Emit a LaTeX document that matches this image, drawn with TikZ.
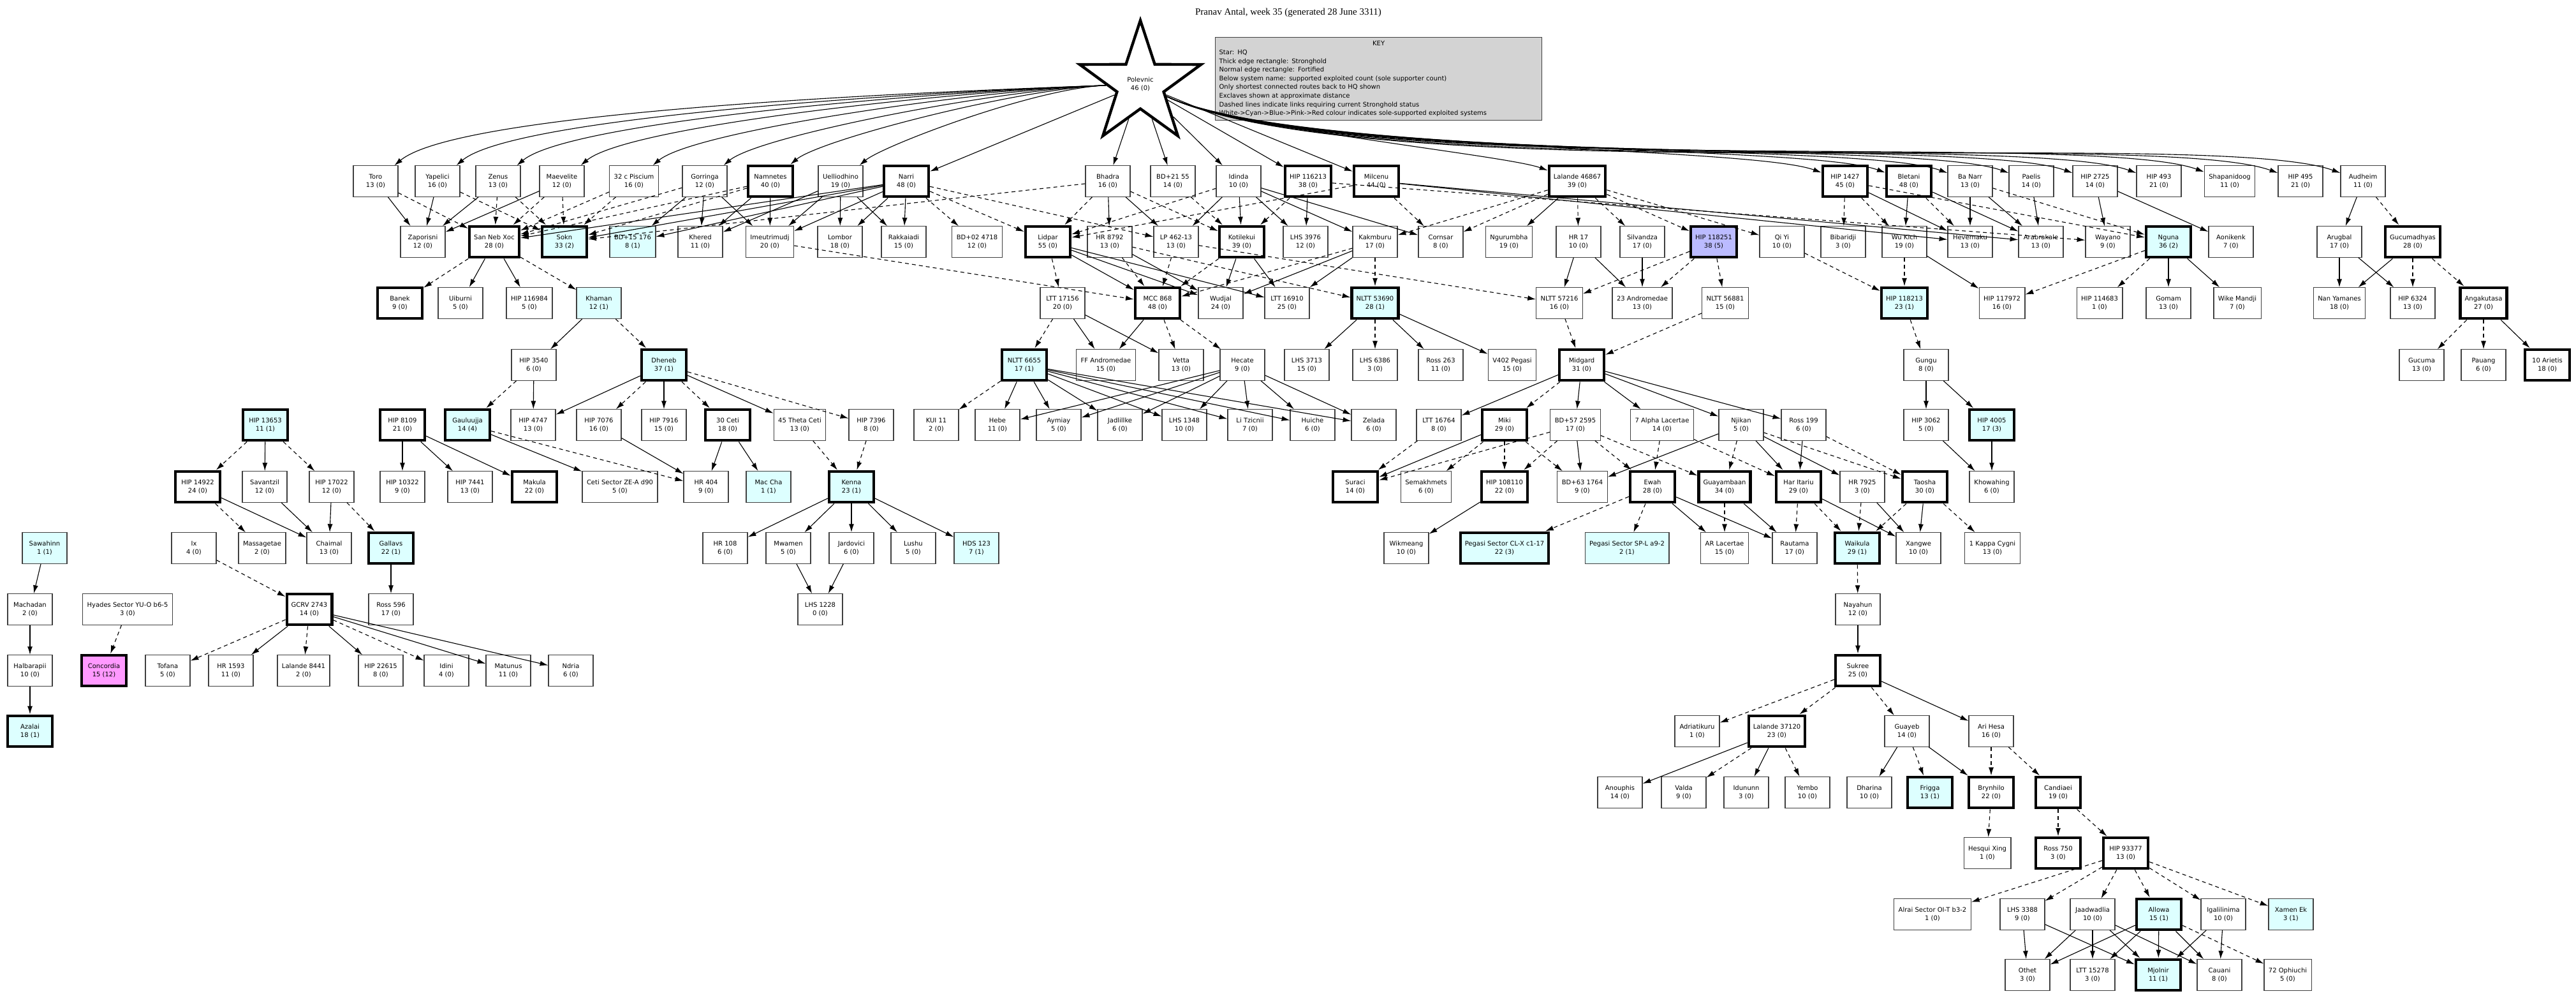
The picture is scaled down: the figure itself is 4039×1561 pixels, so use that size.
\documentclass[tikz,border=0pt]{standalone}
\usepackage{fontspec}
\setmainfont{DejaVu Sans}
\newfontfamily\titlefont{Liberation Serif}
\usetikzlibrary{arrows.meta,shapes.geometric}
\definecolor{cyanfill}{HTML}{DDFFFF}
\definecolor{bluefill}{HTML}{BBBBFF}
\definecolor{pinkfill}{HTML}{FF99FF}
\definecolor{keyfill}{HTML}{D3D3D3}
\tikzset{
  sys/.style={rectangle,draw=black!75,line width=0.3pt,fill=white,align=center,
    font=\fontsize{2.5}{3.25}\selectfont,minimum width=17.5pt,minimum height=12pt,inner xsep=1.75pt},
  strong/.style={sys,draw=black,line width=1.1pt},
  cy/.style={fill=cyanfill},
  bl/.style={fill=bluefill},
  pk/.style={fill=pinkfill},
  link/.style={-{Latex[length=3.2pt,width=2pt]},line width=0.28pt},
  slink/.style={link,dash pattern=on 1.5pt off 1.25pt},
}
\begin{document}
\begin{tikzpicture}[x=0.25pt,y=-0.25pt]
\useasboundingbox (0,0) rectangle (4039,1561);
% title, key and HQ
\node[font=\titlefont\fontsize{3.75}{4.25}\selectfont] (title) at (2020,20) {Pranav Antal, week 35 (generated 28 June 3311)};
\node[draw=black!75,line width=0.3pt,fill=keyfill,align=left,anchor=north west,text width=125pt,
  font=\fontsize{2.5}{3.4}\selectfont,inner sep=1.5pt] (key) at (1905,58)
  {\hfill KEY\hfill\null\\Star: HQ\\Thick edge rectangle: Stronghold\\Normal edge rectangle: Fortified\\
   Below system name: supported exploited count (sole supporter count)\\Only shortest connected routes back to HQ shown\\
   Exclaves shown at approximate distance\\Dashed lines indicate links requiring current Stronghold status\\
   White->Cyan->Blue->Pink->Red colour indicates sole-supported exploited systems};
\node[star,star points=5,star point ratio=2.6,draw=black,line width=1.1pt,fill=white,minimum size=50pt,
  align=center,font=\fontsize{2.5}{3.25}\selectfont,inner sep=0pt] (pol) at (1788,132) {Polevnic\\46 (0)};

% row 1
\node[sys] (toro) at (589,284) {Toro\\13 (0)};
\node[sys] (yape) at (686,284) {Yapelici\\16 (0)};
\node[sys] (zenu) at (781,284) {Zenus\\13 (0)};
\node[sys] (maev) at (881,284) {Maevelite\\12 (0)};
\node[sys] (pisc) at (994,284) {32 c Piscium\\16 (0)};
\node[sys] (gorr) at (1105,284) {Gorringa\\12 (0)};
\node[strong] (namn) at (1208,284) {Namnetes\\40 (0)};
\node[sys] (ueli) at (1318,284) {Uelliodhino\\19 (0)};
\node[strong] (narr) at (1421,284) {Narri\\48 (0)};
\node[sys] (bhad) at (1737,284) {Bhadra\\16 (0)};
\node[sys] (bd21) at (1839,284) {BD+21 55\\14 (0)};
\node[sys] (idin) at (1942,284) {Idinda\\10 (0)};
\node[strong] (h116) at (2051,284) {HIP 116213\\38 (0)};
\node[strong] (milc) at (2158,284) {Milcenu\\44 (0)};
\node[strong] (la46) at (2473,284) {Lalande 46867\\39 (0)};
\node[strong] (h1427) at (2893,284) {HIP 1427\\45 (0)};
\node[strong] (blet) at (2993,284) {Bletani\\48 (0)};
\node[sys] (bana) at (3089,284) {Ba Narr\\13 (0)};
\node[sys] (pael) at (3185,284) {Paelis\\14 (0)};
\node[sys] (h2725) at (3285,284) {HIP 2725\\14 (0)};
\node[sys] (h493) at (3385,284) {HIP 493\\21 (0)};
\node[sys] (shap) at (3496,284) {Shapanidoog\\11 (0)};
\node[sys] (h495) at (3607,284) {HIP 495\\21 (0)};
\node[sys] (audh) at (3705,284) {Audheim\\11 (0)};

% row 2
\node[sys] (zapo) at (663,379) {Zaporisni\\12 (0)};
\node[strong] (sanx) at (775,379) {San Neb Xoc\\28 (0)};
\node[strong,cy] (sokn) at (885,379) {Sokn\\33 (2)};
\node[sys,cy] (bd15) at (992,379) {BD+15 176\\8 (1)};
\node[sys] (kher) at (1098,379) {Khered\\11 (0)};
\node[sys] (imeu) at (1207,379) {Imeutrimudj\\20 (0)};
\node[sys] (lomb) at (1317,379) {Lombor\\18 (0)};
\node[sys] (rakk) at (1417,379) {Rakkaiadi\\15 (0)};
\node[sys] (bd02) at (1532,379) {BD+02 4718\\12 (0)};
\node[strong] (lidp) at (1643,379) {Lidpar\\55 (0)};
\node[sys] (hr87) at (1740,379) {HR 8792\\13 (0)};
\node[sys] (lp46) at (1844,379) {LP 462-13\\13 (0)};
\node[strong] (koti) at (1947,379) {Kotilekui\\39 (0)};
\node[sys] (lh39) at (2047,379) {LHS 3976\\12 (0)};
\node[sys] (kakm) at (2156,379) {Kakmburu\\17 (0)};
\node[sys] (corn) at (2259,379) {Cornsar\\8 (0)};
\node[sys] (ngur) at (2366,379) {Ngurumbha\\19 (0)};
\node[sys] (hr17) at (2475,379) {HR 17\\10 (0)};
\node[sys] (silv) at (2575,379) {Silvandza\\17 (0)};
\node[strong,bl] (h118251) at (2687,379) {HIP 118251\\38 (5)};
\node[sys] (qiyi) at (2794,379) {Qi Yi\\10 (0)};
\node[sys] (biba) at (2890,379) {Bibaridji\\3 (0)};
\node[sys] (wuki) at (2986,379) {Wu Kich\\19 (0)};
\node[sys] (heve) at (3089,379) {Hevernaku\\13 (0)};
\node[sys] (arab) at (3200,379) {Arabrakale\\13 (0)};
\node[sys] (waya) at (3305,379) {Wayano\\9 (0)};
\node[strong,cy] (ngun) at (3400,379) {Nguna\\36 (2)};
\node[sys] (aoni) at (3498,379) {Aonikenk\\7 (0)};
\node[sys] (arug) at (3668,379) {Arugbal\\17 (0)};
\node[strong] (gucu) at (3783,379) {Gucumadhyas\\28 (0)};

% row 3
\node[strong] (bane) at (627,475) {Banek\\9 (0)};
\node[sys] (uibu) at (722,475) {Uiburni\\5 (0)};
\node[sys] (h116984) at (830,475) {HIP 116984\\5 (0)};
\node[sys,cy] (kham) at (939,475) {Khaman\\12 (1)};
\node[sys] (lt17) at (1666,475) {LTT 17156\\20 (0)};
\node[strong] (mcc) at (1815,475) {MCC 868\\48 (0)};
\node[sys] (wudj) at (1914,475) {Wudjal\\24 (0)};
\node[sys] (lt16) at (2018,475) {LTT 16910\\25 (0)};
\node[strong,cy] (nl53) at (2156,475) {NLTT 53690\\28 (1)};
\node[sys] (nl57) at (2445,475) {NLTT 57216\\16 (0)};
\node[sys] (and23) at (2575,475) {23 Andromedae\\13 (0)};
\node[sys] (nl56) at (2705,475) {NLTT 56881\\15 (0)};
\node[strong,cy] (h118213) at (2986,475) {HIP 118213\\23 (1)};
\node[sys] (h117972) at (3139,475) {HIP 117972\\16 (0)};
\node[sys] (h114683) at (3292,475) {HIP 114683\\1 (0)};
\node[sys] (goma) at (3400,475) {Gomam\\13 (0)};
\node[sys] (wike) at (3508,475) {Wike Mandji\\7 (0)};
\node[sys] (nany) at (3668,475) {Nan Yamanes\\18 (0)};
\node[sys] (h6324) at (3783,475) {HIP 6324\\13 (0)};
\node[strong] (anga) at (3894,475) {Angakutasa\\27 (0)};

% row 4
\node[sys] (h3540) at (837,572) {HIP 3540\\6 (0)};
\node[strong,cy] (dhen) at (1041,572) {Dheneb\\37 (1)};
\node[strong,cy] (nl66) at (1606,572) {NLTT 6655\\17 (1)};
\node[sys] (ffan) at (1734,572) {FF Andromedae\\15 (0)};
\node[sys] (vett) at (1852,572) {Vetta\\13 (0)};
\node[sys] (heca) at (1948,572) {Hecate\\9 (0)};
\node[sys] (lh37) at (2049,572) {LHS 3713\\15 (0)};
\node[sys] (lh63) at (2156,572) {LHS 6386\\3 (0)};
\node[sys] (ro263) at (2259,572) {Ross 263\\11 (0)};
\node[sys] (v402) at (2371,572) {V402 Pegasi\\15 (0)};
\node[strong] (midg) at (2480,572) {Midgard\\31 (0)};
\node[sys] (gung) at (3020,572) {Gungu\\8 (0)};
\node[sys] (gcma) at (3797,572) {Gucuma\\13 (0)};
\node[sys] (paua) at (3894,572) {Pauang\\6 (0)};
\node[strong] (ari10) at (3994,572) {10 Arietis\\18 (0)};

% row 5
\node[strong,cy] (h13653) at (416,666) {HIP 13653\\11 (1)};
\node[strong] (h8109) at (631,666) {HIP 8109\\21 (0)};
\node[strong,cy] (gaul) at (733,666) {Gauluujja\\14 (4)};
\node[sys] (h4747) at (836,666) {HIP 4747\\13 (0)};
\node[sys] (h7076) at (939,666) {HIP 7076\\16 (0)};
\node[sys] (h7916) at (1041,666) {HIP 7916\\15 (0)};
\node[strong] (ceti30) at (1141,666) {30 Ceti\\18 (0)};
\node[sys] (ceti45) at (1254,666) {45 Theta Ceti\\13 (0)};
\node[sys] (h7396) at (1366,666) {HIP 7396\\8 (0)};
\node[sys] (kui) at (1468,666) {KUI 11\\2 (0)};
\node[sys] (hebe) at (1564,666) {Hebe\\11 (0)};
\node[sys] (aymi) at (1660,666) {Aymiay\\5 (0)};
\node[sys] (jadl) at (1756,666) {Jadlillke\\6 (0)};
\node[sys] (lh13) at (1857,666) {LHS 1348\\10 (0)};
\node[sys] (litz) at (1960,666) {Li Tzicnii\\7 (0)};
\node[sys] (huic) at (2058,666) {Huiche\\6 (0)};
\node[sys] (zela) at (2154,666) {Zelada\\6 (0)};
\node[sys] (lt167) at (2256,666) {LTT 16764\\8 (0)};
\node[strong] (miki) at (2359,666) {Miki\\29 (0)};
\node[sys] (bd57) at (2470,666) {BD+57 2595\\17 (0)};
\node[sys] (alac) at (2606,666) {7 Alpha Lacertae\\14 (0)};
\node[sys] (njik) at (2730,666) {Njikan\\5 (0)};
\node[sys] (ro199) at (2828,666) {Ross 199\\6 (0)};
\node[sys] (h3062) at (3020,666) {HIP 3062\\5 (0)};
\node[strong,cy] (h4005) at (3123,666) {HIP 4005\\17 (3)};

% row 6
\node[strong] (h14922) at (310,763) {HIP 14922\\24 (0)};
\node[sys] (sava) at (415,763) {Savantzil\\12 (0)};
\node[sys] (h17022) at (520,763) {HIP 17022\\12 (0)};
\node[sys] (h10322) at (631,763) {HIP 10322\\9 (0)};
\node[sys] (h7441) at (737,763) {HIP 7441\\13 (0)};
\node[strong] (maku) at (838,763) {Makula\\22 (0)};
\node[sys] (cets) at (972,763) {Ceti Sector ZE-A d90\\5 (0)};
\node[sys] (hr404) at (1107,763) {HR 404\\9 (0)};
\node[sys,cy] (macc) at (1205,763) {Mac Cha\\1 (1)};
\node[strong,cy] (kenn) at (1335,763) {Kenna\\23 (1)};
\node[strong] (sura) at (2125,763) {Suraci\\14 (0)};
\node[sys] (sema) at (2236,763) {Semakhmets\\6 (0)};
\node[strong] (h108110) at (2359,763) {HIP 108110\\22 (0)};
\node[sys] (bd63) at (2481,763) {BD+63 1764\\9 (0)};
\node[strong] (ewah) at (2591,763) {Ewah\\28 (0)};
\node[strong] (guay) at (2704,763) {Guayambaan\\34 (0)};
\node[strong] (hari) at (2820,763) {Har Itariu\\29 (0)};
\node[sys] (hr79) at (2920,763) {HR 7925\\3 (0)};
\node[strong] (taos) at (3018,763) {Taosha\\30 (0)};
\node[sys] (khow) at (3123,763) {Khowahing\\6 (0)};

% row 7
\node[sys,cy] (sawa) at (70,859) {Sawahinn\\1 (1)};
\node[sys] (ix) at (304,859) {Ix\\4 (0)};
\node[sys] (mass) at (411,859) {Massagetae\\2 (0)};
\node[sys] (chai) at (516,859) {Chaimal\\13 (0)};
\node[strong,cy] (gall) at (613,859) {Gallavs\\22 (1)};
\node[sys] (hr108) at (1137,859) {HR 108\\6 (0)};
\node[sys] (mwam) at (1236,859) {Mwamen\\5 (0)};
\node[sys] (jard) at (1335,859) {Jardovici\\6 (0)};
\node[sys] (lush) at (1432,859) {Lushu\\5 (0)};
\node[sys,cy] (hds) at (1531,859) {HDS 123\\7 (1)};
\node[sys] (wikm) at (2205,859) {Wikmeang\\10 (0)};
\node[strong,cy] (pclx) at (2359,859) {Pegasi Sector CL-X c1-17\\22 (3)};
\node[sys,cy] (pspl) at (2551,859) {Pegasi Sector SP-L a9-2\\2 (1)};
\node[sys] (arla) at (2704,859) {AR Lacertae\\15 (0)};
\node[sys] (raut) at (2814,859) {Rautama\\17 (0)};
\node[strong,cy] (waik) at (2912,859) {Waikula\\29 (1)};
\node[sys] (xang) at (3008,859) {Xangwe\\10 (0)};
\node[sys] (kapp) at (3124,859) {1 Kappa Cygni\\13 (0)};

% row 8
\node[sys] (mach) at (47,955) {Machadan\\2 (0)};
\node[sys] (hyad) at (200,955) {Hyades Sector YU-O b6-5\\3 (0)};
\node[strong] (gcrv) at (485,955) {GCRV 2743\\14 (0)};
\node[sys] (ro596) at (613,955) {Ross 596\\17 (0)};
\node[sys] (lh12) at (1286,955) {LHS 1228\\0 (0)};
\node[sys] (naya) at (2913,955) {Nayahun\\12 (0)};

% row 9
\node[sys] (halb) at (47,1051) {Halbarapii\\10 (0)};
\node[strong,pk] (conc) at (163,1051) {Concordia\\15 (12)};
\node[sys] (tofa) at (263,1051) {Tofana\\5 (0)};
\node[sys] (hr15) at (362,1051) {HR 1593\\11 (0)};
\node[sys] (la84) at (476,1051) {Lalande 8441\\2 (0)};
\node[sys] (h22615) at (597,1051) {HIP 22615\\8 (0)};
\node[sys] (idni) at (700,1051) {Idini\\4 (0)};
\node[sys] (matu) at (797,1051) {Matunus\\11 (0)};
\node[sys] (ndri) at (895,1051) {Ndria\\6 (0)};
\node[strong] (sukr) at (2913,1051) {Sukree\\25 (0)};

% rows 10 to 14
\node[strong,cy] (azal) at (47,1146) {Azalai\\18 (1)};
\node[sys] (adri) at (2661,1146) {Adriatikuru\\1 (0)};
\node[strong] (la37) at (2786,1146) {Lalande 37120\\23 (0)};
\node[sys] (guye) at (2990,1146) {Guayeb\\14 (0)};
\node[sys] (ahes) at (3122,1146) {Ari Hesa\\16 (0)};
\node[sys] (anou) at (2540,1242) {Anouphis\\14 (0)};
\node[sys] (vald) at (2640,1242) {Valda\\9 (0)};
\node[sys] (idun) at (2738,1242) {Idununn\\3 (0)};
\node[sys] (yemb) at (2834,1242) {Yembo\\10 (0)};
\node[sys] (dhar) at (2931,1242) {Dharina\\10 (0)};
\node[strong,cy] (frig) at (3026,1242) {Frigga\\13 (1)};
\node[strong] (bryn) at (3122,1242) {Brynhilo\\22 (0)};
\node[strong] (cand) at (3227,1242) {Candiaei\\19 (0)};
\node[sys] (hesq) at (3116,1337) {Hesqui Xing\\1 (0)};
\node[strong] (ro750) at (3227,1337) {Ross 750\\3 (0)};
\node[strong] (h93377) at (3333,1337) {HIP 93377\\13 (0)};
\node[sys] (alra) at (3030,1433) {Alrai Sector OI-T b3-2\\1 (0)};
\node[sys] (lh33) at (3171,1433) {LHS 3388\\9 (0)};
\node[sys] (jaad) at (3281,1433) {Jaadwadlia\\10 (0)};
\node[strong,cy] (allo) at (3385,1433) {Allowa\\15 (1)};
\node[sys] (igal) at (3486,1433) {Igalilinima\\10 (0)};
\node[sys,cy] (xame) at (3592,1433) {Xamen Ek\\3 (1)};
\node[sys] (othe) at (3179,1528) {Othet\\3 (0)};
\node[sys] (lt15) at (3281,1528) {LTT 15278\\3 (0)};
\node[strong,cy] (mjol) at (3384,1528) {Mjolnir\\11 (1)};
\node[sys] (caua) at (3480,1528) {Cauani\\8 (0)};
\node[sys] (oph72) at (3587,1528) {72 Ophiuchi\\5 (0)};

% routes from HQ
\foreach \t in {toro,yape,zenu,maev,pisc,gorr,namn,ueli}
  \path[link] (pol) edge[out=182,in=40,out looseness=0.7,in looseness=0.3] (\t);
\foreach \t in {narr,bhad,bd21,idin,h116,milc}
  \path[link] (pol) edge (\t);
\foreach \t in {la46,h1427,blet,bana,pael,h2725,h493,shap,h495,audh}
  \path[link] (pol) edge[out=-25,in=160,out looseness=0.5,in looseness=0.3] (\t);

% solid links
\foreach \a/\b in {toro/zapo,yape/zapo,zenu/zapo,maev/zapo,gorr/bd15,gorr/kher,gorr/imeu,namn/kher,namn/imeu,
  ueli/kher,ueli/imeu,ueli/lomb,ueli/rakk,narr/lomb,narr/rakk,narr/imeu,narr/sokn,narr/sanx,narr/bd15,
  bhad/hr87,bhad/lp46,idin/koti,idin/lp46,idin/lh39,idin/kakm,idin/corn,h116/lh39,la46/ngur,
  h1427/heve,blet/wuki,blet/arab,bana/heve,bana/arab,pael/arab,h2725/waya,h2725/aoni,audh/arug,
  sanx/uibu,sanx/h116984,lidp/mcc,lidp/wudj,lidp/lt16,hr87/wudj,koti/wudj,koti/lt16,kakm/wudj,kakm/lt16,
  hr17/nl57,hr17/and23,silv/and23,wuki/h117972,ngun/goma,ngun/wike,arug/nany,arug/h6324,gucu/nany,
  kham/h3540,lt17/ffan,lt17/vett,mcc/ffan,nl53/lh37,nl53/ro263,nl53/v402,anga/ari10,
  h3540/h4747,dhen/h4747,dhen/h7916,dhen/ceti45,nl66/hebe,nl66/aymi,nl66/jadl,nl66/lh13,nl66/litz,nl66/huic,nl66/zela,
  heca/hebe,heca/aymi,heca/jadl,heca/lh13,heca/litz,heca/huic,heca/zela,
  midg/lt167,midg/bd57,midg/alac,midg/njik,midg/ro199,gung/h3062,gung/h4005,
  h13653/sava,h8109/h10322,h8109/h7441,h8109/maku,gaul/cets,h7076/hr404,ceti30/hr404,ceti30/macc,
  miki/sura,bd57/bd63,njik/bd63,njik/hari,njik/hr79,ro199/hari,h3062/khow,h4005/khow,
  h14922/chai,sava/chai,h17022/chai,kenn/hr108,kenn/mwam,kenn/jard,kenn/lush,kenn/hds,h108110/wikm,
  ewah/arla,ewah/raut,guay/raut,hari/xang,hr79/xang,taos/xang,
  sawa/mach,gall/ro596,mwam/lh12,jard/lh12,mach/halb,gcrv/hr15,gcrv/h22615,gcrv/matu,gcrv/ndri,
  naya/sukr,halb/azal,sukr/ahes,la37/anou,la37/idun,guye/dhar,guye/bryn,
  lh33/othe,lh33/mjol,jaad/othe,jaad/lt15,jaad/mjol,jaad/caua,allo/othe,allo/lt15,allo/mjol,allo/caua,igal/mjol,igal/caua,
  milc/heve,milc/arab}
  \path[link] (\a) edge (\b);

% links requiring Stronghold status
\foreach \a/\b in {toro/sanx,yape/sokn,zenu/sanx,zenu/sokn,maev/sanx,maev/sokn,pisc/sanx,pisc/sokn,gorr/sanx,
  namn/sokn,namn/sanx,narr/lidp,narr/bd02,narr/lp46,bhad/lidp,bhad/koti,bhad/sokn,bd21/koti,idin/lidp,
  h116/koti,milc/corn,milc/lidp,la46/hr17,la46/silv,la46/h118251,la46/corn,la46/kakm,la46/qiyi,
  h1427/biba,h1427/wuki,h1427/ngun,blet/heve,bana/ngun,audh/gucu,h116/waya,
  imeu/mcc,lp46/nl57,
  sanx/bane,sanx/kham,lidp/lt17,hr87/mcc,hr87/nl53,lp46/mcc,koti/mcc,kakm/nl53,kakm/mcc,
  h118251/nl57,h118251/and23,h118251/nl56,qiyi/h118213,wuki/h118213,ngun/h117972,ngun/h114683,
  gucu/h6324,gucu/anga,kham/dhen,lt17/nl66,mcc/vett,mcc/heca,nl53/lh63,nl57/midg,nl56/midg,h118213/gung,
  anga/gcma,anga/paua,h3540/gaul,dhen/h7076,dhen/ceti30,dhen/h7396,nl66/kui,midg/miki,
  h13653/h14922,h13653/h17022,gaul/hr404,ceti45/kenn,h7396/kenn,lt167/sura,miki/sema,miki/h108110,miki/bd63,
  bd57/sura,bd57/h108110,bd57/ewah,bd57/guay,alac/ewah,alac/hari,njik/guay,njik/taos,ro199/taos,
  h14922/mass,h17022/gall,ewah/pclx,ewah/pspl,guay/arla,hari/raut,hari/waik,hr79/waik,taos/waik,taos/kapp,
  ix/gcrv,waik/naya,hyad/conc,gcrv/tofa,gcrv/la84,gcrv/idni,
  sukr/adri,sukr/la37,sukr/guye,la37/vald,la37/yemb,guye/frig,ahes/bryn,ahes/cand,bryn/hesq,cand/ro750,cand/h93377,
  h93377/alra,h93377/lh33,h93377/jaad,h93377/allo,h93377/igal,h93377/xame,allo/oph72}
  \path[slink] (\a) edge (\b);
\end{tikzpicture}
\end{document}
